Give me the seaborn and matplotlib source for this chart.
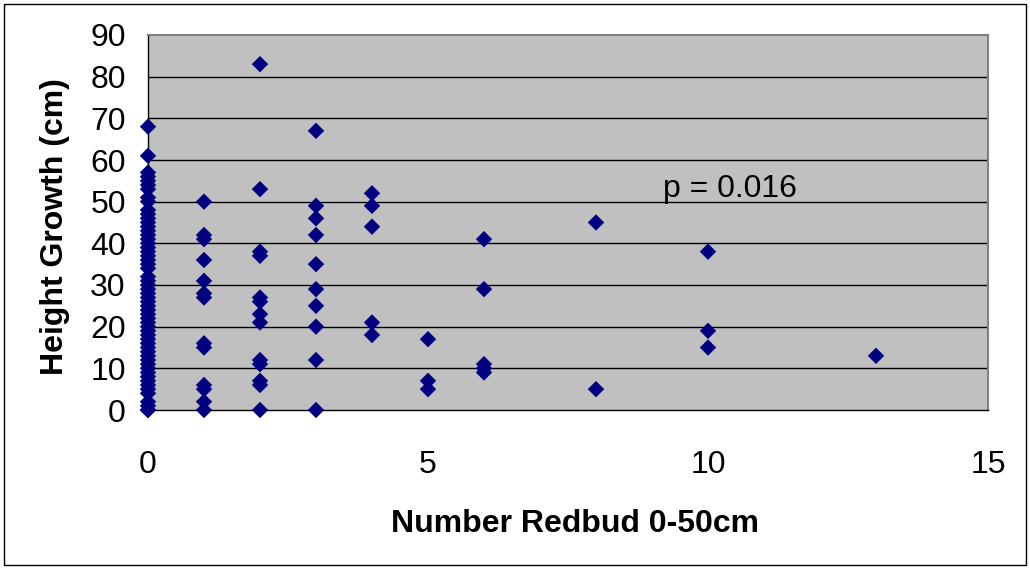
import matplotlib
matplotlib.use("Agg")
import matplotlib.pyplot as plt
import matplotlib.patches as mpatches
import seaborn as sns
import pandas as pd

growth_0 = [0, 0, 1, 2, 4, 5, 6, 7, 8, 9, 10, 11, 12, 13, 14, 15, 16, 17, 18, 19,
            20, 21, 22, 23, 24, 25, 26, 27, 28, 29, 30, 31, 32, 34, 35, 36, 37, 38,
            39, 40, 41, 42, 43, 44, 45, 46, 47, 48, 50, 51, 53, 54, 55, 56, 57, 61, 68]
growth_1 = [50, 42, 41, 36, 31, 28, 27, 16, 15, 6, 5, 2, 0]
growth_2 = [83, 53, 38, 37, 27, 26, 23, 21, 12, 11, 7, 6, 0]
growth_3 = [67, 49, 46, 42, 35, 29, 25, 20, 12, 0]
growth_4 = [52, 49, 44, 21, 18]
growth_5 = [17, 7, 5]
growth_6 = [41, 29, 11, 10, 9]
growth_8 = [45, 5]
growth_10 = [38, 19, 15]
growth_13 = [13]

groups = {0: growth_0, 1: growth_1, 2: growth_2, 3: growth_3, 4: growth_4,
          5: growth_5, 6: growth_6, 8: growth_8, 10: growth_10, 13: growth_13}

x_ticks = [0, 5, 10, 15]
y_ticks = [0, 10, 20, 30, 40, 50, 60, 70, 80, 90]
p_label = "p = 0.016"

rows = [(k, v) for k, vals in groups.items() for v in vals]
df = pd.DataFrame(rows, columns=["redbud", "growth"])

sns.set_style("white", {"axes.facecolor": "#C0C0C0"})
plt.rcParams["font.family"] = ["Liberation Sans", "DejaVu Sans"]
plt.rcParams["text.color"] = "black"
plt.rcParams["xtick.labelcolor"] = "black"
plt.rcParams["ytick.labelcolor"] = "black"
plt.rcParams["axes.labelcolor"] = "black"

fig = plt.figure(figsize=(10.3, 5.69), dpi=100)
ax = fig.add_axes([148 / 1030, 1 - 410 / 569, 840 / 1030, 375 / 569])

for y in y_ticks[1:-1]:
    ax.axhline(y, color="black", lw=1, zorder=1)

sns.scatterplot(data=df, x="redbud", y="growth", marker="D", s=70,
                color="#000080", edgecolor="none", linewidth=0, ax=ax,
                zorder=3, clip_on=False)

ax.set_xlim(0, 15)
ax.set_ylim(0, 90)
ax.set_xticks(x_ticks)
ax.set_yticks(y_ticks)
ax.tick_params(axis="both", direction="out", length=6, width=1,
               color="black", labelsize=23, labelcolor="black")
ax.tick_params(axis="x", pad=23)
ax.tick_params(axis="y", pad=10)

for side in ["left", "bottom"]:
    ax.spines[side].set_color("black")
    ax.spines[side].set_linewidth(1)
for side in ["top", "right"]:
    ax.spines[side].set_visible(True)
    ax.spines[side].set_color("#808080")
    ax.spines[side].set_linewidth(1.5)

ax.set_xlabel("Number Redbud 0-50cm", fontsize=23, fontweight="bold", color="black")
ax.set_ylabel("Height Growth (cm)", fontsize=23, fontweight="bold", color="black")
ax.xaxis.set_label_coords(0.508, -0.265)
ax.yaxis.set_label_coords(-0.093, 0.49)

ax.text(9.2, 53, p_label, fontsize=23, va="center", ha="left", color="black")

fig.patches.append(mpatches.Rectangle((4 / 1030, 4 / 569), 1022 / 1030, 561 / 569,
                                      transform=fig.transFigure, fill=False,
                                      edgecolor="black", lw=1))

fig.savefig("out.png", dpi=100)
